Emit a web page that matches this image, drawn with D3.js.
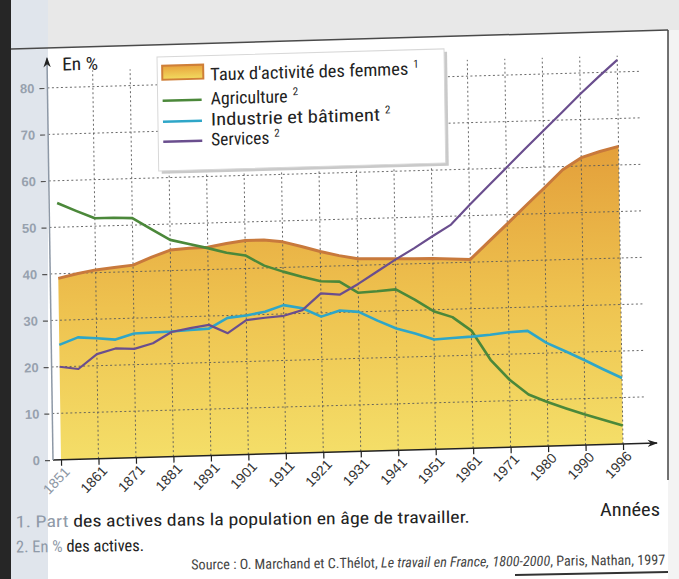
<!DOCTYPE html>
<html>
<head>
<meta charset="utf-8">
<script src="https://cdn.jsdelivr.net/npm/d3@7"></script>
<style>
  body { margin: 0; background: #fff; }
  svg { display: block; font-family: "Liberation Sans Narrow", "Roboto Condensed", "DejaVu Sans Condensed", "Liberation Sans", sans-serif; }
</style>
</head>
<body>
<div id="chart"></div>
<script>
const width = 679;
const height = 579;

// sample positions along the axis (half steps between labelled years)
const years = [1851, 1856, 1861, 1866, 1871, 1876, 1881, 1886, 1891, 1896, 1901, 1906, 1911, 1916, 1921, 1926,
  1931, 1936, 1941, 1946, 1951, 1956, 1961, 1966, 1971, 1975, 1980, 1985, 1990, 1993, 1996];
const tickYears = [1851, 1861, 1871, 1881, 1891, 1901, 1911, 1921, 1931, 1941, 1951, 1961, 1971, 1980, 1990, 1996];
const yTicks = [0, 10, 20, 30, 40, 50, 60, 70, 80];

// values in %
const femmes = [39, 39.9, 40.6, 41, 41.4, 43, 44.4, 44.7, 44.8, 45.5, 46, 46, 45.5, 44.4, 43.2, 42.2,
  41.4, 41.3, 41.2, 41.1, 41, 40.8, 40.6, 44.3, 48, 51.8, 55.5, 59.3, 61.8, 63, 64];
const agriculture = [55.2, 53.4, 51.7, 51.7, 51.5, 49, 46.6, 45.6, 44.6, 43.5, 42.8, 40.5, 39.1, 37.9, 36.8, 36.6,
  34.1, 34.3, 34.6, 32.3, 29.7, 28.3, 25.3, 18.9, 14.5, 11.2, 9.5, 8, 6.6, 5.3, 4];
const industrie = [24.7, 26.2, 25.9, 25.5, 26.7, 26.8, 26.9, 27.1, 27.3, 29.5, 29.9, 30.6, 31.9, 31.1, 29.2, 30.4,
  30, 28, 26.2, 25, 23.6, 23.8, 24, 24.3, 24.7, 24.9, 22.2, 20.3, 18.3, 16.2, 14.2];
const services = [20, 19.4, 22.5, 23.6, 23.4, 24.5, 26.8, 27.5, 28.1, 26.2, 28.9, 29.3, 29.6, 30.7, 34.2, 33.8,
  36, 38.5, 41, 43.3, 45.8, 48.2, 52.3, 56.2, 60.1, 64, 67.8, 71.6, 75.5, 79.1, 82.6];

const series = [
  { name: "Agriculture", values: agriculture, color: "#4b883a", w: 2.6 },
  { name: "Industrie et bâtiment", values: industrie, color: "#2ea6c8", w: 2.6 },
  { name: "Services", values: services, color: "#6a4e8e", w: 2.2 }
];

const svg = d3.select("#chart").append("svg")
  .attr("width", width)
  .attr("height", height);

const defs = svg.append("defs");

// page background, scan borders
svg.append("rect").attr("width", width).attr("height", height).attr("fill", "#fff");
svg.append("polygon").attr("points", "11,0 679,0 679,30 11,49").attr("fill", "#e8e8e8");
svg.append("rect").attr("x", 668).attr("y", 30).attr("width", 11).attr("height", 549).attr("fill", "#f3f3f3");
svg.append("rect").attr("x", 11).attr("y", 0).attr("width", 37).attr("height", height).attr("fill", "#e0e5ec");
svg.append("rect").attr("x", 0).attr("y", 0).attr("width", 11).attr("height", height).attr("fill", "#262626");
svg.append("line").attr("x1", 11).attr("y1", 49).attr("x2", 668).attr("y2", 30)
  .attr("stroke", "#4a4a4a").attr("stroke-width", 1.5);
svg.append("line").attr("x1", 668).attr("y1", 30).attr("x2", 668).attr("y2", 480)
  .attr("stroke", "#444").attr("stroke-width", 1.5);
svg.append("line").attr("x1", 515).attr("y1", 575).attr("x2", 668).attr("y2", 572)
  .attr("stroke", "#333").attr("stroke-width", 2);

// gradient for the women's activity area
const grad = defs.append("linearGradient").attr("id", "gradFemmes")
  .attr("gradientUnits", "userSpaceOnUse")
  .attr("x1", 0).attr("x2", 0).attr("y1", 100).attr("y2", 400);
grad.append("stop").attr("offset", 0).attr("stop-color", "#e39f3a");
grad.append("stop").attr("offset", 0.5).attr("stop-color", "#eec24f");
grad.append("stop").attr("offset", 1).attr("stop-color", "#f4de68");

const swGrad = defs.append("linearGradient").attr("id", "gradSwatch")
  .attr("x1", 0).attr("x2", 0).attr("y1", 0).attr("y2", 1);
swGrad.append("stop").attr("offset", 0).attr("stop-color", "#e8a23c");
swGrad.append("stop").attr("offset", 1).attr("stop-color", "#f2dc60");

defs.append("marker").attr("id", "arrow")
  .attr("viewBox", "0 0 10 10").attr("refX", 9).attr("refY", 5)
  .attr("markerWidth", 7).attr("markerHeight", 7).attr("orient", "auto")
  .append("path").attr("d", "M0,1.5 L10,5 L0,8.5 L3,5 Z").attr("fill", "#222");

// scanned page is slightly skewed
const g = svg.append("g")
  .attr("transform", "translate(53,460) matrix(1,-0.028,0.015,1,0,0) translate(0,-400)");

const x = d3.scalePoint().domain(years).range([8, 570]);
const y = d3.scaleLinear().domain([0, 86]).range([400, 0]);

// area
g.append("path")
  .datum(femmes)
  .attr("fill", "url(#gradFemmes)")
  .attr("d", d3.area().x((d, i) => x(years[i])).y0(y(0)).y1(d => y(d)));

// grid
g.append("g").selectAll("line")
  .data(yTicks.slice(1))
  .join("line")
  .attr("x1", 0).attr("x2", 592)
  .attr("y1", d => y(d)).attr("y2", d => y(d))
  .attr("stroke", "#5a5a5a").attr("stroke-width", 0.9).attr("stroke-dasharray", "2,2.5");
g.append("g").selectAll("line")
  .data(tickYears.slice(1))
  .join("line")
  .attr("x1", d => x(d)).attr("x2", d => x(d))
  .attr("y1", y(0)).attr("y2", y(83.5))
  .attr("stroke", "#5a5a5a").attr("stroke-width", 0.9).attr("stroke-dasharray", "2,2.5");

// women's activity rate outline
g.append("path")
  .datum(femmes)
  .attr("fill", "none")
  .attr("stroke", "#c8793c")
  .attr("stroke-width", 3)
  .attr("stroke-linejoin", "round")
  .attr("d", d3.line().x((d, i) => x(years[i])).y(d => y(d)));

// sector lines
series.forEach(s => {
  g.append("path")
    .datum(s.values)
    .attr("fill", "none")
    .attr("stroke", s.color)
    .attr("stroke-width", s.w)
    .attr("stroke-linejoin", "round")
    .attr("d", d3.line().x((d, i) => x(years[i])).y(d => y(d)));
});

// x axis
const xAxis = g.append("g")
  .attr("transform", "translate(0," + y(0) + ")")
  .call(d3.axisBottom(x).tickValues(tickYears).tickSize(6));
xAxis.select(".domain").remove();
xAxis.selectAll(".tick line").attr("stroke", "#222").attr("stroke-width", 1.2);
xAxis.selectAll(".tick text")
  .attr("x", 0).attr("y", 0).attr("dy", 0)
  .attr("text-anchor", "end")
  .attr("transform", "translate(9,13) rotate(-45)")
  .attr("fill", d => d === 1851 ? "#8d97a4" : "#333")
  .style("font-size", "14px")
  .style("font-family", null);
g.append("line")
  .attr("x1", 0).attr("y1", y(0)).attr("x2", 604).attr("y2", y(0))
  .attr("stroke", "#222").attr("stroke-width", 1.5)
  .attr("marker-end", "url(#arrow)");

// y axis
const yAxis = g.append("g")
  .call(d3.axisLeft(y).tickValues(yTicks).tickSize(8).tickPadding(5));
yAxis.select(".domain").remove();
yAxis.selectAll(".tick line").attr("stroke", "#555").attr("stroke-width", 1.2).attr("x1", -3);
yAxis.selectAll(".tick text")
  .attr("fill", "#97a1ae")
  .style("font-size", "13px")
  .style("font-weight", "bold")
  .style("font-family", null);
g.append("line")
  .attr("x1", 0).attr("y1", y(0)).attr("x2", 0).attr("y2", -2)
  .attr("stroke", "#8d98a6").attr("stroke-width", 1.5)
  .attr("marker-end", "url(#arrow)");

g.append("text")
  .attr("x", 15).attr("y", 11)
  .attr("fill", "#222")
  .attr("textLength", 36).attr("lengthAdjust", "spacingAndGlyphs")
  .style("font-size", "18px")
  .text("En %");

// legend
const leg = g.append("g").attr("transform", "translate(110,0)");
leg.append("rect").attr("x", 3).attr("y", 3).attr("width", 287).attr("height", 114).attr("fill", "#c9c9c9");
leg.append("rect").attr("width", 287).attr("height", 114).attr("fill", "#fff").attr("stroke", "#d8d8d8");
leg.append("rect").attr("x", 5).attr("y", 9).attr("width", 41).attr("height", 14)
  .attr("fill", "url(#gradSwatch)").attr("stroke", "#cf7f38").attr("stroke-width", 2);
const legItems = [{ name: "Taux d'activité des femmes", note: "1", len: 198 }]
  .concat(series.map((s, i) => ({ name: s.name, note: "2", color: s.color, len: [77, 169, 58][i] })));
const legRows = [25, 49, 70, 90];
legItems.forEach((d, i) => {
  const yy = legRows[i];
  if (d.color) {
    leg.append("line").attr("x1", 5).attr("x2", 44).attr("y1", yy - 5).attr("y2", yy - 5)
      .attr("stroke", d.color).attr("stroke-width", 2.6);
  }
  leg.append("text").attr("x", 53).attr("y", yy).attr("fill", "#222")
    .attr("textLength", d.len).attr("lengthAdjust", "spacingAndGlyphs")
    .style("font-size", "17.5px")
    .text(d.name);
  leg.append("text").attr("x", 53 + d.len + 5).attr("y", yy - 7).attr("fill", "#222")
    .style("font-size", "11px")
    .text(d.note);
});

// footnotes
const notes = svg.append("g").attr("transform", "rotate(-0.6,340,540)");
const n1 = notes.append("text").attr("x", 16).attr("y", 524).attr("fill", "#222")
  .attr("textLength", 454).attr("lengthAdjust", "spacingAndGlyphs")
  .style("font-size", "16.5px");
n1.append("tspan").attr("fill", "#8f9aa8").text("1. Part ");
n1.append("tspan").text("des actives dans la population en âge de travailler.");
const n2 = notes.append("text").attr("x", 16).attr("y", 549).attr("fill", "#222")
  .attr("textLength", 128).attr("lengthAdjust", "spacingAndGlyphs")
  .style("font-size", "16.5px");
n2.append("tspan").attr("fill", "#8f9aa8").text("2. En % ");
n2.append("tspan").text("des actives.");
const src = notes.append("text").attr("x", 665).attr("y", 568).attr("text-anchor", "end")
  .style("font-size", "14.2px").attr("fill", "#444");
src.append("tspan").text("Source : O. Marchand et C.Thélot, ");
src.append("tspan").style("font-style", "italic").text("Le travail en France, 1800-2000");
src.append("tspan").text(", Paris, Nathan, 1997");

svg.append("text")
  .attr("x", 600).attr("y", 516)
  .attr("textLength", 60).attr("lengthAdjust", "spacingAndGlyphs")
  .attr("fill", "#222").style("font-size", "17.5px")
  .text("Années");
</script>
</body>
</html>
